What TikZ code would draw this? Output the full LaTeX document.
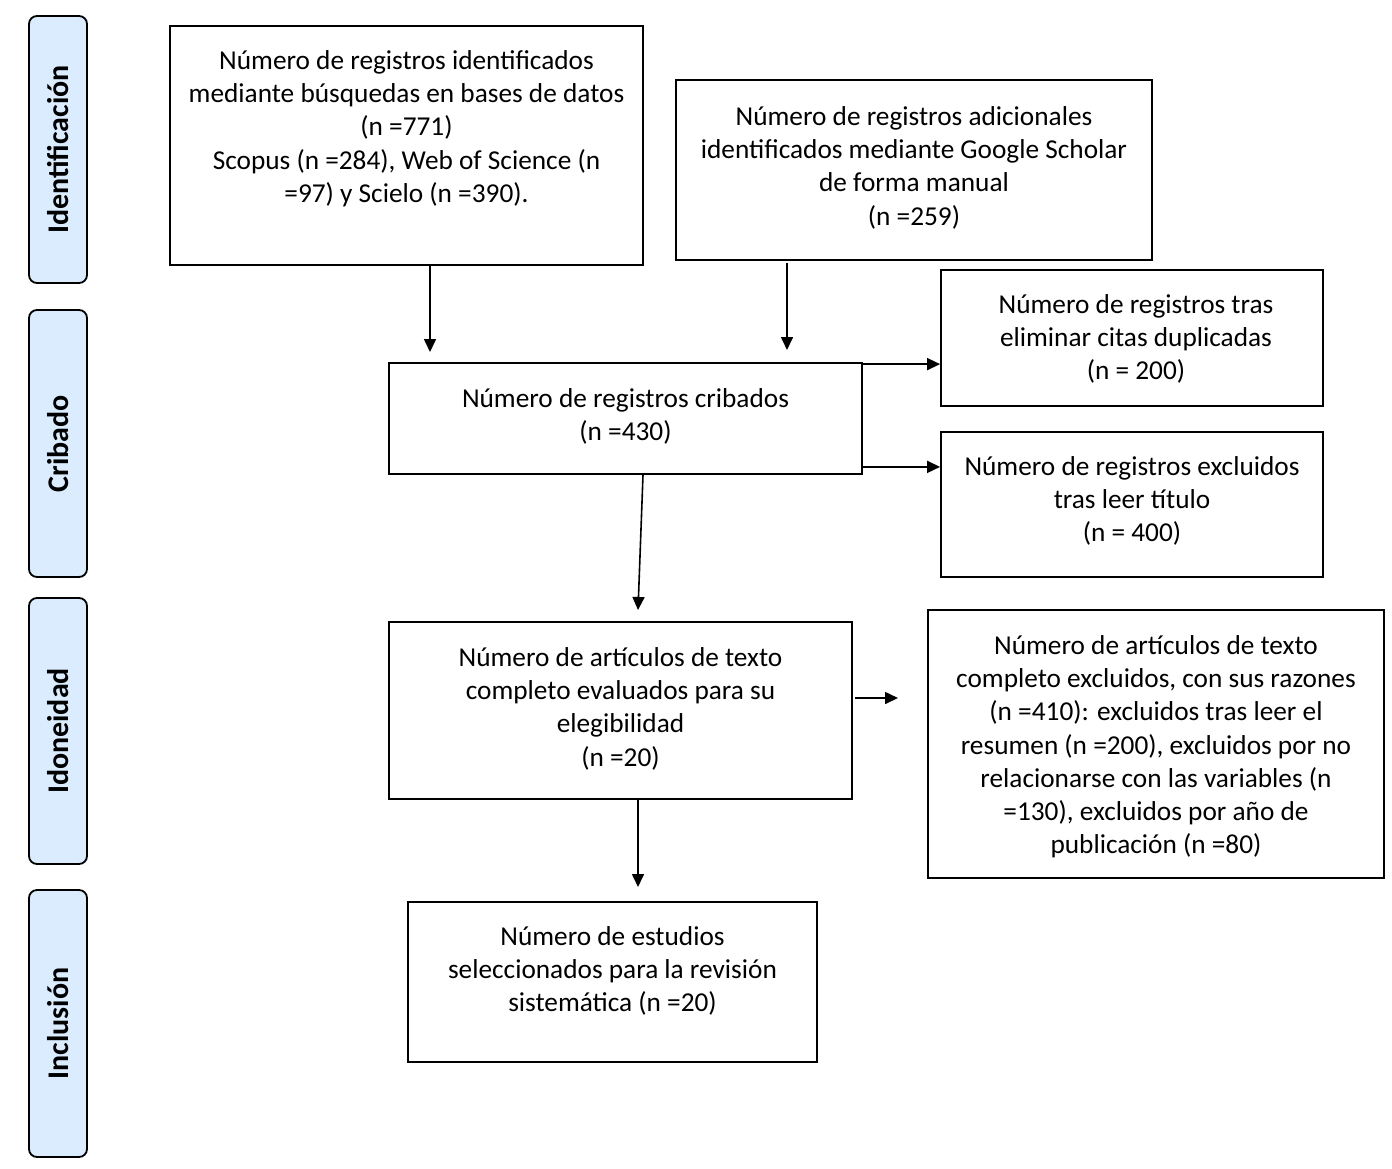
\documentclass[tikz,border=0pt]{standalone}
\usepackage{fontspec}
\setmainfont{Carlito}
\usetikzlibrary{arrows.meta,calc}
\definecolor{sidefill}{RGB}{218,236,254}
\begin{document}
\begin{tikzpicture}[x=1pt,y=-1pt,
  box/.style={draw,line width=1.8pt,inner sep=0pt},
  side/.style={draw,line width=1.8pt,fill=sidefill,rounded corners=8pt,minimum width=58pt,inner sep=0pt},
  sidetxt/.style={rotate=90,font=\fontsize{30}{34}\selectfont\bfseries},
  txt/.style={align=center,inner sep=0pt,anchor=north,font=\fontsize{27.3}{33.2}\selectfont},
  arr/.style={line width=1.6pt,-{Triangle[length=13pt,width=12pt]}}]
\useasboundingbox (0,0) rectangle (1392,1168);
% side labels
\node[side,minimum height=267pt] (s1) at (58,149.5) {};
\node[sidetxt] (s1t) at (s1.center) {Identificación};
\node[side,minimum height=267pt] (s2) at (58,443.5) {};
\node[sidetxt] (s2t) at (s2.center) {Cribado};
\node[side,minimum height=266pt] (s3) at (58,731) {};
\node[sidetxt] (s3t) at (s3.center) {Idoneidad};
\node[side,minimum height=267pt] (s4) at (58,1023.5) {};
\node[sidetxt] (s4t) at (s4.center) {Inclusión};
% boxes
\node[box,minimum width=473pt,minimum height=239pt] (a) at (406.5,145.5) {};
\node[txt] (at) at (406.5,46) {\strut Número de registros identificados\\mediante búsquedas en bases de datos\\(n =771)\\Scopus (n =284), Web of Science (n\\=97) y Scielo (n =390).};
\node[box,minimum width=476pt,minimum height=180pt] (b) at (914,170) {};
\node[txt] (bt) at (914,102) {\strut Número de registros adicionales\\identificados mediante Google Scholar\\de forma manual\\(n =259)};
\node[box,minimum width=382pt,minimum height=136pt] (c) at (1132,338) {};
\node[txt] (ct) at (1136,290) {\strut Número de registros tras\\eliminar citas duplicadas\\(n = 200)};
\node[box,minimum width=473pt,minimum height=111pt] (d) at (625.5,418.5) {};
\node[txt] (dt) at (625.5,384) {\strut Número de registros cribados\\(n =430)};
\node[box,minimum width=382pt,minimum height=145pt] (e) at (1132,504.5) {};
\node[txt] (et) at (1132,452) {\strut Número de registros excluidos\\tras leer título\\(n = 400)};
\node[box,minimum width=463pt,minimum height=177pt] (f) at (620.5,710.5) {};
\node[txt] (ft) at (620.5,643) {\strut Número de artículos de texto\\completo evaluados para su\\elegibilidad\\(n =20)};
\node[box,minimum width=456pt,minimum height=268pt] (g) at (1156,744) {};
\node[txt] (gt) at (1156,631) {\strut Número de artículos de texto\\completo excluidos, con sus razones\\(n =410): excluidos tras leer el\\resumen (n =200), excluidos por no\\relacionarse con las variables (n\\=130), excluidos por año de\\publicación (n =80)};
\node[box,minimum width=409pt,minimum height=160pt] (h) at (612.5,982) {};
\node[txt] (ht) at (612.5,922) {\strut Número de estudios\\seleccionados para la revisión\\sistemática (n =20)};
% connector ends
\coordinate (p1) at (430,352);
\coordinate (p2) at (787,350);
\coordinate (p3) at (638,610);
\coordinate (p4) at (638,887);
\coordinate (q1) at (855,698);
\coordinate (q2) at (898,698);
\coordinate (r1) at ([yshift=-2pt]d.north east);
\coordinate (r2) at ([yshift=8pt]d.south east);
\coordinate (r3) at ([xshift=17.5pt]d.south);
\coordinate (r4) at ([yshift=-2pt]b.south -| p2);
% arrows
\draw[arr] (a.south -| p1) -- (p1);
\draw[arr] (r4) -- (p2);
\draw[arr] (r1) -- (c.west |- r1);
\draw[arr] (r2) -- (e.west |- r2);
\draw[arr] (r3) -- (p3);
\draw[arr] (f.south -| p4) -- (p4);
\draw[arr] (q1) -- (q2);
\end{tikzpicture}
\end{document}
